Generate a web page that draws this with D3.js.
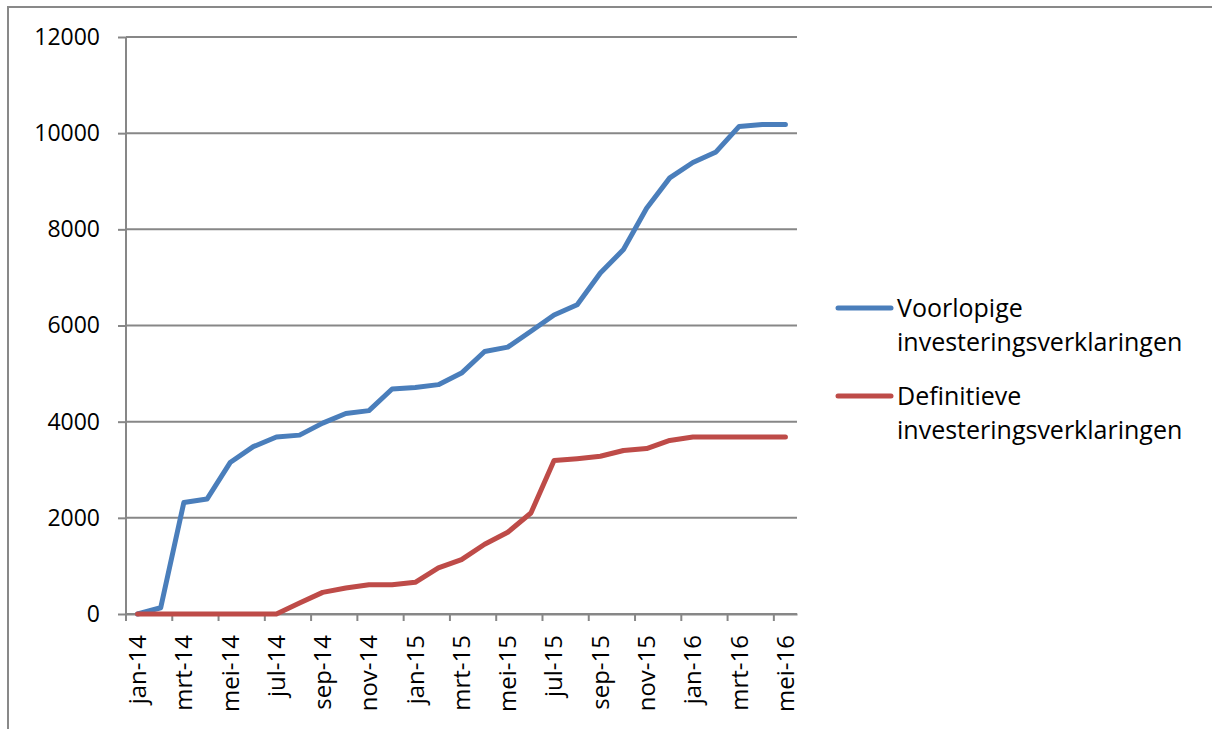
<!DOCTYPE html>
<html>
<head>
<meta charset="utf-8">
<script src="https://cdn.jsdelivr.net/npm/d3@7"></script>
<style>
  body { margin: 0; background: #fff; }
  .chart text { font-family: "Open Sans", Lato, sans-serif; fill: #000; }
</style>
</head>
<body>
<div class="chart"></div>
<script>
var svgWidth = 1212;
var svgHeight = 729;

var margin = { top: 37, right: 415, bottom: 115, left: 126 };
var width = 797 - margin.left;
var height = 614 - margin.top;

// months on the category axis
var months = [
  "jan-14", "feb-14", "mrt-14", "apr-14", "mei-14", "jun-14", "jul-14", "aug-14",
  "sep-14", "okt-14", "nov-14", "dec-14", "jan-15", "feb-15", "mrt-15", "apr-15",
  "mei-15", "jun-15", "jul-15", "aug-15", "sep-15", "okt-15", "nov-15", "dec-15",
  "jan-16", "feb-16", "mrt-16", "apr-16", "mei-16"
];

// values
var voorlopige = [
  0, 130, 2320, 2390, 3150, 3480, 3680, 3720,
  3970, 4170, 4230, 4680, 4710, 4770, 5010, 5460,
  5550, 5880, 6220, 6430, 7090, 7580, 8440, 9070,
  9390, 9610, 10140, 10180, 10180
];
var definitieve = [
  0, 0, 0, 0, 0, 0, 0, 230,
  450, 540, 610, 610, 660, 960, 1130, 1450,
  1700, 2100, 3190, 3230, 3280, 3400, 3440, 3610,
  3680, 3680, 3680, 3680, 3680
];

var yTicks = [0, 2000, 4000, 6000, 8000, 10000, 12000];

var seriesNames = [
  ["Voorlopige", "investeringsverklaringen"],
  ["Definitieve", "investeringsverklaringen"]
];
var colors = ["#4a7ebb", "#be4b48"];

var svg = d3.select(".chart")
  .append("svg")
  .attr("width", svgWidth)
  .attr("height", svgHeight);

// outer chart border
svg.append("rect")
  .attr("x", 8).attr("y", 7)
  .attr("width", 1400).attr("height", 900)
  .attr("fill", "none")
  .attr("stroke", "#898989")
  .attr("stroke-width", 2);

var chartGroup = svg.append("g")
  .attr("transform", `translate(${margin.left}, ${margin.top})`);

var xScale = d3.scaleBand()
  .domain(months)
  .range([0, width])
  .padding(0);

var yScale = d3.scaleLinear()
  .domain([0, 12000])
  .range([height, 0]);

// gridlines
chartGroup.append("g")
  .selectAll("line")
  .data(yTicks)
  .enter()
  .append("line")
  .attr("x1", 0)
  .attr("x2", width)
  .attr("y1", d => yScale(d))
  .attr("y2", d => yScale(d))
  .attr("stroke", "#878787")
  .attr("stroke-width", 2);

// y axis
var leftAxis = d3.axisLeft(yScale)
  .tickValues(yTicks)
  .tickFormat(d3.format("d"))
  .tickSize(8)
  .tickPadding(18);
var yAxis = chartGroup.append("g").call(leftAxis);
yAxis.select(".domain").attr("stroke", "#878787").attr("stroke-width", 2)
  .attr("d", `M0,0V${height + 7}`);
yAxis.selectAll(".tick line").attr("stroke", "#878787").attr("stroke-width", 2);
yAxis.selectAll(".tick text").style("font-size", "23px");

// x axis, label and tick every second month
var evenMonths = months.filter((m, i) => i % 2 === 0);
var bottomAxis = d3.axisBottom(xScale).tickValues(evenMonths).tickSize(7).tickSizeOuter(0);
var xAxis = chartGroup.append("g")
  .attr("transform", `translate(0, ${height})`)
  .call(bottomAxis);
xAxis.select(".domain").attr("stroke", "#878787").attr("stroke-width", 2);
xAxis.selectAll(".tick line")
  .attr("stroke", "#878787")
  .attr("stroke-width", 2)
  .attr("x1", -xScale.bandwidth() / 2)
  .attr("x2", -xScale.bandwidth() / 2);
xAxis.selectAll(".tick text")
  .style("font-size", "24px")
  .attr("text-anchor", "end")
  .attr("transform", "rotate(-90)")
  .attr("x", -21)
  .attr("y", 0)
  .attr("dy", "0.35em");

// lines
var line = d3.line()
  .x((d, i) => xScale(months[i]) + xScale.bandwidth() / 2)
  .y(d => yScale(d));

[voorlopige, definitieve].forEach((series, k) => {
  chartGroup.append("path")
    .datum(series)
    .attr("d", line)
    .attr("fill", "none")
    .attr("stroke", colors[k])
    .attr("stroke-width", 5)
    .attr("stroke-linejoin", "round")
    .attr("stroke-linecap", "round");
});

// legend
var legend = svg.append("g");
var legendY = [308, 396];
seriesNames.forEach((names, k) => {
  legend.append("line")
    .attr("x1", 838).attr("x2", 891)
    .attr("y1", legendY[k]).attr("y2", legendY[k])
    .attr("stroke", colors[k])
    .attr("stroke-width", 5)
    .attr("stroke-linecap", "round");
  legend.append("text")
    .attr("x", 897)
    .attr("y", legendY[k] + 9)
    .style("font-size", "25px")
    .text(names[0]);
  legend.append("text")
    .attr("x", 897)
    .attr("y", legendY[k] + 43)
    .style("font-size", "25px")
    .text(names[1]);
});
</script>
</body>
</html>
